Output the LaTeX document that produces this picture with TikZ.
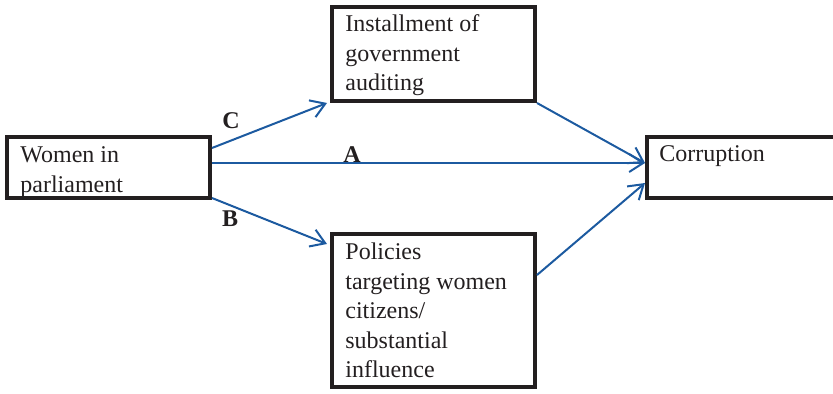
\documentclass[tikz,border=0pt]{standalone}
\usepackage{fontspec}
\setmainfont{Liberation Serif}
\usetikzlibrary{arrows.meta}
\definecolor{boxline}{RGB}{35,31,32}
\definecolor{linkblue}{RGB}{28,90,160}
\begin{document}
\begin{tikzpicture}[x=0.5pt,y=-0.5pt,
  box/.style={draw=boxline,line width=2pt,rectangle,inner sep=0pt},
  boxtext/.style={anchor=north west,inner sep=0pt,align=left,
    font=\fontsize{12}{14.8}\selectfont,text=boxline},
  lab/.style={inner sep=0pt,font=\fontsize{12}{14}\selectfont\bfseries,text=boxline},
  link/.style={draw=linkblue,line width=1pt,
    -{Straight Barb[length=7pt,width=9pt]}}]
\useasboundingbox (0,0) rectangle (833,394);

% boxes
\node[box,minimum width=101.5pt,minimum height=30.5pt] (women) at (108.5,167.5) {};
\node[box,minimum width=101.5pt,minimum height=47pt] (audit) at (433.5,54) {};
\node[box,minimum width=101.5pt,minimum height=76.5pt] (policy) at (433.5,310.5) {};
\node[box,minimum width=126.5pt,minimum height=30.5pt] (corr) at (773.5,167.5) {};

% box texts
\node[boxtext] (womenT) at (20,141.4) {\strut Women in\\parliament};
\node[boxtext] (auditT) at (345,10.4) {\strut Installment of\\government\\auditing};
\node[boxtext] (policyT) at (345,238.4) {\strut Policies\\targeting women\\citizens/\\substantial\\influence};
\node[boxtext] (corrT) at (659,140.4) {\strut Corruption};

% free ends of the mediating paths
\coordinate (cTip) at (327,103);
\coordinate (bTip) at (327,244);

% connectors
\draw[link] (women.east |- 0,148) -- (cTip);
\draw[link] (women.east |- 0,163) -- (corr.west |- 0,163);
\draw[link] (women.east |- 0,198) -- (bTip);
\draw[link] (audit.south east) -- (corr.west |- 0,163);
\draw[link] (policy.east |- 0,275) -- (corr.west |- 0,183);

% path labels
\node[lab] (labC) at (231,121) {C};
\node[lab] (labA) at (352,155) {A};
\node[lab] (labB) at (230,219) {B};
\end{tikzpicture}
\end{document}
